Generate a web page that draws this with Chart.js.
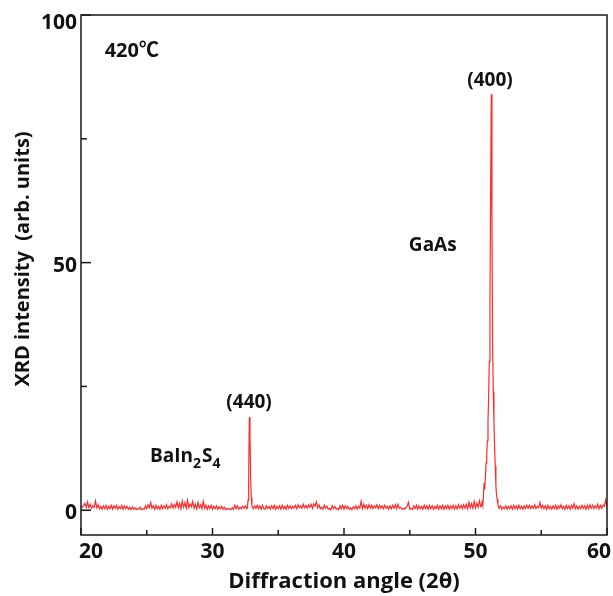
<!DOCTYPE html>
<html>
<head>
<meta charset="utf-8">
<title>XRD 420℃</title>
<script src="https://cdn.jsdelivr.net/npm/chart.js@4/dist/chart.umd.min.js"></script>
<style>
	html, body { margin: 0; padding: 0; background: #fff; }
	canvas { display: block; }
</style>
</head>
<body>
<canvas id="xrd-chart" width="613" height="596"></canvas>
<script>
/* global Chart */
'use strict';

// Scan step of the baseline segments (degrees 2θ).
var angleStep = 0.1;

// Baseline 20.0 - 32.6.
var lowAngleStart = 20.0;
var lowAngleIntensity = [
	0.4, 0.7, 1.0, 1.4, 0.6, 1.7, 0.5, 1.2, 0.4, 0.9, // 20
	0.6, 1.9, 0.5, 1.1, 0.3, 0.8, 0.2, 0.9, 0.3, 1.0, // 21
	0.2, 0.8, 0.3, 1.0, 0.2, 0.9, 0.4, 1.0, 0.2, 0.7, // 22
	0.3, 1.0, 0.2, 0.9, 0.3, 0.8, 0.2, 0.6, 0.1, 0.7, // 23
	0.2, 0.5, 0.1, 0.4, 0.2, 0.6, 0.1, 0.3, 0.2, 0.9, // 24
	0.3, 1.1, 0.5, 1.6, 0.4, 0.9, 0.2, 1.0, 0.3, 0.8, // 25
	0.2, 1.0, 0.3, 0.9, 0.4, 1.1, 0.3, 0.8, 0.5, 1.3, // 26
	0.4, 1.2, 0.6, 1.7, 0.5, 1.4, 0.3, 1.9, 0.6, 1.5, // 27
	0.4, 2.0, 0.5, 1.3, 0.7, 1.8, 0.4, 1.2, 0.3, 1.6, // 28
	0.5, 1.1, 0.3, 1.8, 0.4, 1.0, 0.2, 0.9, 0.3, 1.0, // 29
	0.2, 0.8, 0.3, 0.9, 0.2, 0.7, 0.3, 0.8, 0.2, 0.6, // 30
	0.1, 0.4, 0.2, 0.3, 0.1, 0.5, 0.2, 1.0, 0.3, 0.9, // 31
	0.2, 0.6, 0.3, 0.8, 0.4, 0.9, 0.3                 // 32.0 - 32.6
];

// BaIn2S4 (440) reflection.
var peak440Angles    = [ 32.65, 32.7, 32.75, 32.8, 32.85, 32.9, 32.95, 33.0, 33.05 ];
var peak440Intensity = [ 0.5, 2.0, 6.5, 18.8, 14.8, 6.7, 2.5, 1.0, 0.4 ];

// Baseline 33.1 - 50.4.
var midAngleStart = 33.1;
var midAngleIntensity = [
	0.3, 0.9, 0.4, 1.0, 0.3, 0.9, 0.2, 1.0, 0.3,      // 33.1 - 33.9
	0.2, 0.9, 0.3, 0.8, 0.2, 0.9, 0.3, 1.0, 0.2, 0.8, // 34
	0.3, 0.9, 0.2, 1.0, 0.3, 0.8, 0.2, 1.0, 0.4, 0.9, // 35
	0.3, 0.8, 0.4, 1.0, 0.3, 1.1, 0.5, 0.9, 0.4, 1.2, // 36
	0.5, 1.0, 0.4, 1.1, 0.6, 1.2, 0.4, 1.3, 0.8, 1.7, // 37
	0.5, 1.1, 0.3, 0.6, 0.2, 1.0, 0.4, 0.8, 0.2, 0.4, // 38
	0.1, 0.9, 0.3, 0.8, 0.2, 0.4, 0.1, 0.9, 0.3, 1.0, // 39
	0.2, 0.9, 0.3, 0.8, 0.2, 0.5, 0.1, 0.7, 0.3, 0.9, // 40
	0.2, 0.8, 0.4, 1.8, 0.3, 1.2, 0.4, 1.0, 0.3, 1.1, // 41
	0.4, 1.0, 0.3, 0.9, 0.5, 1.1, 0.3, 1.0, 0.4, 0.9, // 42
	0.3, 1.0, 0.4, 0.8, 0.2, 0.9, 0.3, 1.0, 0.4, 1.1, // 43
	0.3, 1.2, 0.4, 0.6, 0.2, 0.4, 0.2, 0.5, 0.8, 1.6, // 44
	0.2, 0.4, 0.2, 0.9, 0.3, 1.0, 0.2, 0.9, 0.3, 0.8, // 45
	0.2, 1.0, 0.3, 0.9, 0.2, 1.0, 0.3, 0.9, 0.2, 0.8, // 46
	0.3, 1.0, 0.2, 0.9, 0.3, 1.0, 0.2, 0.9, 0.3, 1.0, // 47
	0.2, 0.9, 0.3, 1.0, 0.2, 0.9, 0.3, 1.1, 0.4, 1.0, // 48
	0.3, 1.1, 0.4, 1.2, 0.3, 1.6, 0.5, 1.3, 0.4, 1.8, // 49
	0.5, 1.4, 0.6, 1.9, 0.7                           // 50.0 - 50.4
];

// GaAs (400) reflection.
var peak400Angles = [
	50.45, 50.5, 50.55, 50.6, 50.65, 50.7, 50.75, 50.8, 50.85, 50.9,
	50.95, 51.0, 51.05, 51.1, 51.15, 51.2, 51.25, 51.3, 51.35, 51.4,
	51.45, 51.5, 51.55, 51.6, 51.65, 51.7, 51.75
];
var peak400Intensity = [
	0.8, 1.6, 1.0, 2.8, 5.5, 4.2, 6.5, 9.5, 11, 14,
	18, 23, 30, 42, 64, 84, 58, 34, 24, 18,
	13, 9, 5, 3, 2.2, 1.2, 0.6
];

// Baseline 51.8 - 60.0.
var highAngleStart = 51.8;
var highAngleIntensity = [
	0.4, 0.9,                                         // 51.8 - 51.9
	0.2, 0.6, 0.3, 0.9, 0.2, 0.8, 0.3, 0.9, 0.2, 1.0, // 52
	0.3, 0.9, 0.2, 1.0, 0.3, 0.8, 0.2, 0.9, 0.3, 1.0, // 53
	0.4, 1.0, 0.3, 0.9, 0.4, 1.1, 0.3, 0.8, 0.5, 1.6, // 54
	0.4, 1.0, 0.3, 0.9, 0.2, 1.0, 0.3, 0.8, 0.2, 0.9, // 55
	0.3, 1.0, 0.2, 0.9, 0.4, 1.1, 0.3, 0.8, 0.2, 1.0, // 56
	0.3, 0.9, 0.2, 1.0, 0.4, 1.3, 0.3, 0.9, 0.2, 0.8, // 57
	0.3, 1.0, 0.4, 0.9, 0.2, 1.0, 0.3, 1.1, 0.4, 1.0, // 58
	0.3, 0.9, 0.4, 1.2, 0.3, 1.0, 0.4, 1.1, 0.8, 2.1, // 59
	0.6                                               // 60
];

// Axis ticks.
var xTickValues  = [ 20, 25, 30, 35, 40, 45, 50, 55, 60 ];
var xTickLabels  = [ '20', '', '30', '', '40', '', '50', '', '60' ];
var yTickValues  = [ 0, 25, 50, 75, 100 ];
var yTickLabels  = [ '0', '', '50', '', '100' ];

var xTitle = 'Diffraction angle (2θ)';
var yTitle = 'XRD intensity  (arb. units)';

var FONT = '"Open Sans", "Noto Sans", "DejaVu Sans", sans-serif';

function buildPoints() {
	var points = [];

	function addGrid( start, values ) {
		values.forEach( function ( v, i ) {
			points.push( { x: Math.round( ( start + i * angleStep ) * 100 ) / 100, y: v } );
		} );
	}

	function addList( angles, values ) {
		angles.forEach( function ( a, i ) {
			points.push( { x: a, y: values[ i ] } );
		} );
	}

	addGrid( lowAngleStart, lowAngleIntensity );
	addList( peak440Angles, peak440Intensity );
	addGrid( midAngleStart, midAngleIntensity );
	addList( peak400Angles, peak400Intensity );
	addGrid( highAngleStart, highAngleIntensity );

	points.sort( function ( a, b ) { return a.x - b.x; } );
	return points;
}

// Frame, inward ticks, labels and annotations.
var decorations = {
	id: 'xrdDecorations',
	afterDraw: function ( chart ) {
		var ctx  = chart.ctx;
		var area = chart.chartArea;
		var xs   = chart.scales.x;
		var ys   = chart.scales.y;

		ctx.save();
		ctx.strokeStyle = '#1a1a1a';
		ctx.fillStyle = '#111';
		ctx.lineWidth = 1.5;
		ctx.strokeRect( area.left, area.top, area.right - area.left, area.bottom - area.top );

		// Y ticks and labels.
		ctx.font = 'bold 21px ' + FONT;
		ctx.textAlign = 'right';
		ctx.textBaseline = 'middle';
		yTickValues.forEach( function ( v, i ) {
			var py  = ys.getPixelForValue( v );
			var len = yTickLabels[ i ] ? 10 : 6;
			ctx.beginPath();
			ctx.moveTo( area.left, py );
			ctx.lineTo( area.left + len, py );
			ctx.stroke();
			if ( yTickLabels[ i ] ) {
				ctx.fillText( yTickLabels[ i ], area.left - 4, Math.max( py + 3, area.top + 8 ) );
			}
		} );

		// X ticks and labels.
		ctx.textAlign = 'center';
		ctx.textBaseline = 'middle';
		xTickValues.forEach( function ( v, i ) {
			var px  = xs.getPixelForValue( v );
			var len = xTickLabels[ i ] ? 7 : 5;
			ctx.beginPath();
			ctx.moveTo( px, area.bottom );
			ctx.lineTo( px, area.bottom - len );
			ctx.stroke();
			if ( xTickLabels[ i ] ) {
				var lx = Math.min( Math.max( px, area.left + 10 ), area.right - 8 );
				ctx.fillText( xTickLabels[ i ], lx, area.bottom + 17 );
			}
		} );

		// Axis titles.
		ctx.font = 'bold 22px ' + FONT;
		ctx.textBaseline = 'alphabetic';
		ctx.fillText( xTitle, ( area.left + area.right ) / 2, 588 );

		ctx.save();
		ctx.translate( 29, ( area.top + area.bottom ) / 2 - 16 );
		ctx.rotate( -Math.PI / 2 );
		ctx.font = 'bold 20px ' + FONT;
		ctx.textAlign = 'center';
		ctx.fillText( yTitle, 0, 0 );
		ctx.restore();

		// Annotations, placed in data coordinates.
		ctx.font = 'bold 20px "Open Sans", "Noto Sans CJK KR", sans-serif';
		ctx.textAlign = 'left';
		ctx.fillText( '420℃', xs.getPixelForValue( 21.8 ), ys.getPixelForValue( 91.5 ) );

		ctx.font = 'bold 19px ' + FONT;
		ctx.textAlign = 'center';
		ctx.textBaseline = 'middle';
		ctx.fillText( '(400)', xs.getPixelForValue( 51.1 ), ys.getPixelForValue( 86.7 ) );
		ctx.fillText( 'GaAs', xs.getPixelForValue( 46.75 ), ys.getPixelForValue( 53.5 ) );
		ctx.fillText( '(440)', xs.getPixelForValue( 32.78 ), ys.getPixelForValue( 21.8 ) );

		// BaIn2S4 with subscripts.
		var bx = xs.getPixelForValue( 25.25 );
		var by = ys.getPixelForValue( 9.7 );
		ctx.textAlign = 'left';
		ctx.textBaseline = 'alphabetic';
		var parts = [ [ 'BaIn', false ], [ '2', true ], [ 'S', false ], [ '4', true ] ];
		parts.forEach( function ( p ) {
			ctx.font = ( p[ 1 ] ? 'bold 14px ' : 'bold 19px ' ) + FONT;
			ctx.fillText( p[ 0 ], bx, by + ( p[ 1 ] ? 6 : 0 ) );
			bx += ctx.measureText( p[ 0 ] ).width + ( p[ 1 ] ? 1 : 0 );
		} );

		ctx.restore();
	}
};

document.addEventListener( 'DOMContentLoaded', function () {
	var canvas = document.getElementById( 'xrd-chart' );

	new Chart( canvas.getContext( '2d' ), {
		type: 'line',
		data: {
			datasets: [ {
				data: buildPoints(),
				borderColor: '#ff2a2a',
				borderWidth: 1.2,
				pointRadius: 0,
				tension: 0,
				fill: false
			} ]
		},
		options: {
			responsive: false,
			animation: false,
			devicePixelRatio: 1,
			layout: {
				padding: { left: 81, right: 6, top: 15, bottom: 61 }
			},
			plugins: {
				legend: { display: false },
				tooltip: { enabled: false }
			},
			scales: {
				x: { type: 'linear', min: 20, max: 60, display: false },
				y: { type: 'linear', min: -5, max: 100, display: false }
			}
		},
		plugins: [ decorations ]
	} );
} );
</script>
</body>
</html>
